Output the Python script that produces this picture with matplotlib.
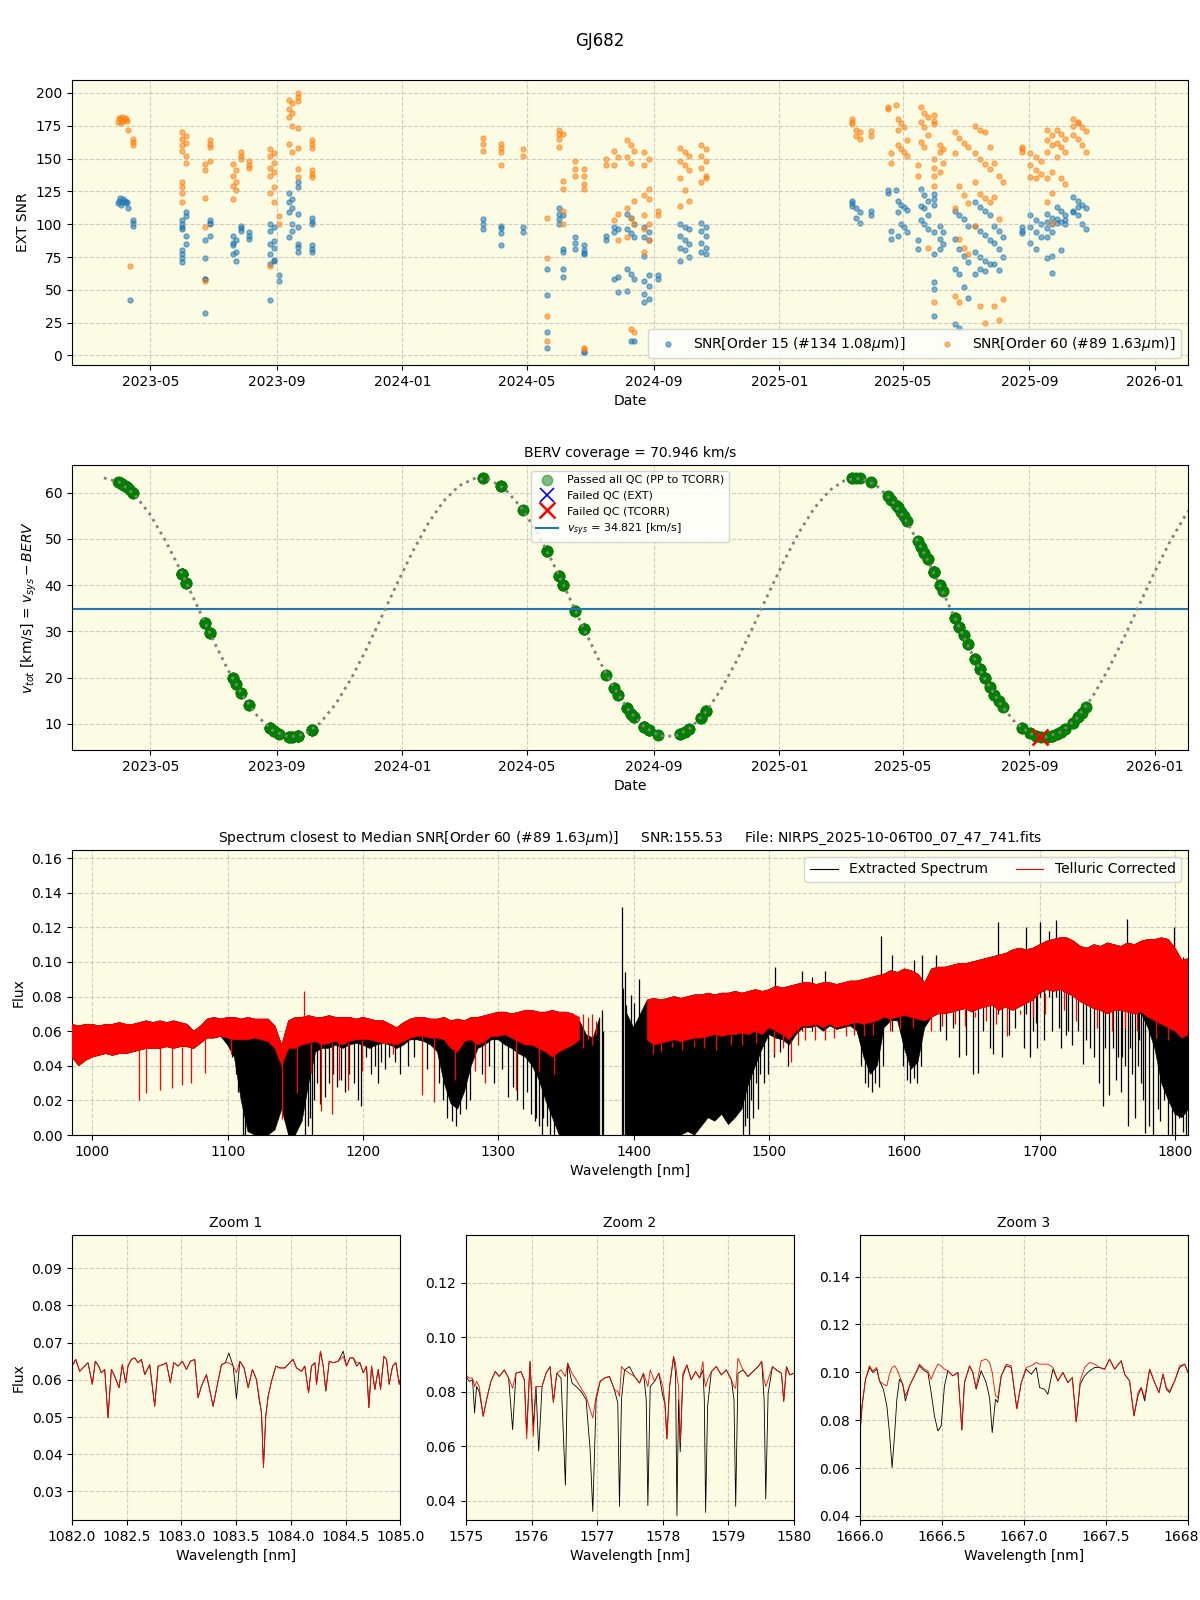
import numpy as np
import pandas as pd
import matplotlib
matplotlib.use("Agg")
import matplotlib.pyplot as plt
import matplotlib.dates as mdates
from matplotlib.gridspec import GridSpec
from matplotlib.ticker import MultipleLocator

FACE = '#fcfbe3'

# ---------------- SNR / BERV observations ----------------
obs23_date = (['2023-03-31','2023-04-01','2023-04-02','2023-04-03','2023-04-04','2023-04-05','2023-04-06','2023-04-07','2023-04-08','2023-04-09','2023-04-11']
 + ['2023-04-14']*3
 + ['2023-06-01']*4 + ['2023-06-05']*4 + ['2023-06-01']*4
 + ['2023-06-28']*4 + ['2023-06-23']*5
 + ['2023-07-20','2023-07-23']*3 + ['2023-07-20']
 + ['2023-07-28']*3 + ['2023-08-05']*3
 + ['2023-08-25','2023-08-29']*5 + ['2023-08-25']
 + ['2023-09-03']*2
 + ['2023-09-13','2023-09-16']*4
 + ['2023-09-22']*7
 + ['2023-10-05']*6)
snr15_23 = [116,118,120,115,117,119,118,116,117,112,42,103,99,101,
 103,100,98,96,91,109,106,85,80,77,74,71,
 103,101,100,91,88,74,58,32,58,
 91,88,84,79,77,72,86,99,97,95,94,91,89,
 100,98,95,87,85,82,77,72,70,73,42,61,57,
 124,119,117,112,109,95,90,100,
 132,128,108,98,83,79,85,
 105,102,100,84,81,79]
snr60_23 = [178,181,180,177,182,179,181,180,179,172,68,165,160,163,
 170,165,160,156,152,167,162,147,132,128,124,117,
 164,161,159,148,146,141,120,98,57,
 146,141,137,132,129,126,119,155,152,150,148,145,143,
 157,154,152,147,143,140,137,128,124,117,68,106,100,
 195,192,188,185,182,175,161,155,
 200,197,194,173,158,142,136,
 164,161,158,141,138,136]
vtot23 = ([62.4,62.3,62.1,62.0,61.9,61.7,61.55,61.4,61.2,61.0,60.65] + [60.0]*3
 + [42.45]*4 + [40.55]*4 + [42.45]*4
 + [29.6]*4 + [31.9]*5
 + [19.8,18.6]*3 + [19.8]
 + [16.7]*3 + [14.0]*3
 + [9.0,8.4]*5 + [9.0]
 + [7.75]*2 + [7.1]*8 + [7.25]*7 + [8.65]*6)

obs24_date = (['2024-03-19']*3 + ['2024-04-06']*4 + ['2024-04-27']*2 + ['2024-05-20']*4
 + ['2024-06-01']*4 + ['2024-06-05']*5 + ['2024-06-17']*3 + ['2024-06-25']*6
 + ['2024-07-17']*2 + ['2024-07-24','2024-07-28']*3
 + ['2024-08-06','2024-08-10','2024-08-13']*4
 + ['2024-08-23','2024-08-27']*5 + ['2024-08-23']
 + ['2024-09-05']*2
 + ['2024-09-27','2024-10-01','2024-10-05']*3 + ['2024-09-27']
 + ['2024-10-17','2024-10-22']*4)
snr15_24 = [104,100,96, 99,97,93,84, 98,94, 66,46,18,6, 112,108,104,100, 107,81,79,66,60, 90,86,81,
 84,80,77,78,2.5,3, 91,88, 98,96,94,60,58,48,
 108,105,100,96,93,90,66,62,58,49,11,10.7,
 98,94,90,88,76,61,57,53,47,43,41, 61,58,
 100,98,96,91,88,85,82,80,75,72, 101,98,95,91,86,82,79,77]
snr60_24 = [166,161,156, 161,158,155,145, 157,152, 105,74,30,11, 172,169,165,159, 169,133,127,110,100, 148,142,137,
 142,137,131,127,6,5, 150,145, 156,151,145,108,103,88,
 164,160,156,151,147,118,112,105,100,90,20,18,
 155,150,145,127,122,119,107,100,96,88,79, 110,107,
 158,155,152,148,145,141,135,126,118,114, 160,157,152,148,143,137,132,135]
vtot24 = ([63.1]*3 + [61.4]*4 + [56.2]*2 + [47.4]*4 + [42.0]*4 + [40.1]*5 + [34.3]*3 + [30.5]*6
 + [20.6]*2 + [17.8,16.3]*3
 + [13.35,12.2,11.4]*4
 + [9.2,8.55]*5 + [9.2]
 + [7.5]*2
 + [7.75,8.2,8.8]*3 + [7.75]
 + [11.3,12.7]*4)

obs25_md = (['03-13']*3 + ['03-17','03-20']*2 + ['03-31']*2 + ['04-17']*2 + ['04-20']*2 + ['04-24']
 + ['04-26','04-29','05-02','05-05']*2 + ['04-26']
 + ['05-16']*2 + ['05-19','05-22','05-25']*3 + ['05-31']*8
 + ['06-06','06-09']*2 + ['06-06']
 + ['06-21','06-25','06-29','07-03']*3 + ['06-21','06-25']
 + ['07-10','07-15','07-20','07-25']*3 + ['07-10','07-15','07-20']
 + ['07-29','08-02','08-06']*2 + ['07-29','08-02']
 + ['08-25']*3
 + ['09-02','09-07','09-12']*2 + ['09-02','09-07']
 + ['09-18','09-23']*5
 + ['09-28','10-02','10-06']*3
 + ['10-13','10-18','10-22','10-26']*2 + ['10-13','10-18'])
snr15_25 = [118,116,114,112,109,105,101,110,107,126,
 124,95,89,126,118,115,113,111,109,100,
 98,94,91,88,81,127,122,118,114,112,
 107,103,100,96,123,119,115,94,77,56,
 51,30,99,94,89,85,81,110,107,104,
 99,89,81,76,71,66,62,52,44,24,
 21,117,113,110,107,99,95,92,88,79,
 75,72,70,62,66,64,99,95,90,86,
 81,75,70,65,98,95,93,107,103,100,
 98,94,90,86,81,108,105,102,100,97,
 94,90,76,74,63,113,110,107,104,102,
 100,101,80,103,121,118,115,112,110,107,
 100,96,109,113]
snr60_25 = [180,178,176,172,170,167,165,171,167,189,
 188,154,147,191,180,177,174,164,160,157,
 155,152,172,145,137,189,185,182,178,174,
 168,163,159,82,183,179,176,150,143,137,
 129,41,160,157,155,147,140,170,166,162,
 159,154,129,122,116,112,89,82,77,45,
 41,175,172,170,159,154,150,146,142,132,
 123,120,117,99,38,25,147,137,132,121,
 104,43,38,27,159,157,155,154,151,148,
 145,141,138,136,135,172,168,164,160,155,
 140,135,124,117,101,172,169,165,162,159,
 155,151,135,131,180,177,174,171,168,165,
 160,155,175,178]
vtot25 = ([63.1]*3 + [63.2,63.1]*2 + [62.4]*2 + [59.3]*2 + [58.5]*2 + [57.4]
 + [56.8,55.9,54.9,53.8]*2 + [56.8]
 + [49.5]*2 + [48.3,46.95,45.65]*3 + [42.9]*8
 + [40.1,38.7]*2 + [40.1]
 + [32.9,30.95,29.1,27.2]*3 + [32.9,30.95]
 + [24.05,21.85,19.8,17.85]*3 + [24.05,21.85,19.8]
 + [16.3,15.0,13.65]*2 + [16.3,15.0]
 + [9.0]*3
 + [7.9,7.35,7.15]*2 + [7.9,7.35]
 + [7.1,7.3]*5
 + [7.75,8.2,8.8]*3
 + [10.15,11.35,12.4,13.6]*2 + [10.15,11.35])

failed_tcorr_date = ['2025-09-11']
failed_tcorr_v = [7.15]

# BERV model curve (15-day sampling starting 2023-03-17)
curve_start = '2023-03-17'
curve_v = [63.20,62.27,59.55,55.21,49.54,42.92,35.79,28.61,21.86,16.00,
 11.40,8.38,7.13,7.73,10.15,14.23,19.69,26.17,33.25,40.45,
 47.31,53.36,58.20,61.51,63.08,62.81,60.70,56.89,51.66,45.32,
 38.32,31.10,24.15,17.93,12.86,9.25,7.36,7.31,9.11,12.63,
 17.63,23.80,30.73,37.94,44.97,51.35,56.66,60.54,62.74,63.12,
 61.64,58.41,53.63,47.64,40.82,33.62,26.53,20.00,14.47,10.32,
 7.82,7.11,8.27,11.21,15.74,21.53,28.24,35.41,42.56,49.21,
 54.93,59.36]
v_sys = 34.821
berv_coverage = 70.946

# ---------------- Full spectrum envelopes (5 nm anchors 985..1810) ----------------
nan = np.nan
red_hi = [.064,.063,.064,.064,.063,.064,.064,.065,.064,.064,
 .065,.066,.065,.066,.065,.066,.065,.064,.060,.063,
 .067,.068,.067,.068,.068,.067,.068,.067,.067,.067,
 .063,.052,.066,.068,.068,.069,.068,.068,.069,.068,
 .068,.068,.067,.068,.067,.066,.066,.064,.062,.065,
 .067,.068,.068,.067,.067,.068,.066,.067,.066,.068,
 .068,.069,.070,.071,.071,.070,.071,.072,.072,.071,
 .071,.072,.071,.071,.070,.068,nan,nan,nan,nan,
 nan,nan,nan,nan,nan,.078,.079,.078,.079,.080,
 .079,.080,.081,.081,.082,.081,.082,.082,.083,.082,
 .083,.084,.083,.084,.086,.085,.086,.087,.088,.088,
 .087,.088,.088,.087,.088,.089,.089,.090,.091,.092,
 .093,.095,.094,.096,.095,.093,.088,.096,.097,.097,
 .098,.099,.099,.100,.101,.102,.103,.104,.105,.107,
 .108,.107,.108,.110,.112,.113,.114,.114,.112,.109,
 .108,.110,.109,.111,.110,.109,.111,.110,.112,.113,
 .113,.114,.113,.108,.101,.102]
red_lo = [.045,.040,.043,.045,.046,.047,.046,.047,.047,.048,
 .049,.050,.050,.050,.051,.050,.051,.051,.050,.053,
 .056,.056,.057,.056,.055,.055,.055,.056,.055,.054,
 .050,.040,.050,.050,.052,.053,.054,.052,.053,.054,
 .052,.054,.055,.055,.055,.054,.053,.053,.052,.054,
 .056,.057,.057,.056,.056,.055,.050,.048,.054,.055,
 .052,.054,.057,.057,.058,.056,.054,.052,.052,.050,
 .048,.045,.048,.050,.052,.055,nan,nan,nan,nan,
 nan,nan,nan,nan,nan,.055,.052,.053,.054,.055,
 .054,.055,.056,.056,.057,.058,.057,.058,.058,.059,
 .058,.060,.058,.062,.060,.058,.055,.060,.063,.063,
 .064,.062,.064,.062,.063,.064,.065,.064,.065,.066,
 .068,.067,.068,.069,.068,.067,.066,.068,.070,.070,
 .071,.072,.073,.071,.073,.074,.075,.072,.074,.072,
 .074,.076,.078,.082,.084,.083,.084,.082,.080,.077,
 .075,.073,.072,.070,.072,.072,.071,.070,.071,.068,
 .066,.064,.062,.060,.056,.058]
blk_hi = [.064,.063,.064,.064,.063,.064,.064,.065,.064,.064,
 .065,.066,.065,.066,.065,.066,.065,.064,.060,.063,
 .067,.068,.067,.068,.068,.067,.068,.067,.067,.067,
 .063,.052,.066,.068,.068,.069,.068,.068,.069,.068,
 .068,.068,.067,.068,.067,.066,.066,.064,.062,.065,
 .067,.068,.068,.067,.067,.068,.066,.067,.066,.068,
 .068,.069,.070,.071,.071,.070,.071,.072,.072,.071,
 .071,.072,.071,.071,.070,.066,.058,.056,.068,nan,
 nan,nan,.070,.062,.070,.078,.079,.078,.079,.080,
 .079,.080,.081,.081,.082,.081,.082,.082,.083,.082,
 .083,.084,.083,.084,.086,.085,.086,.087,.088,.088,
 .087,.088,.088,.087,.088,.089,.089,.090,.091,.092,
 .093,.095,.094,.096,.095,.093,.088,.096,.097,.097,
 .098,.099,.099,.100,.101,.102,.103,.104,.105,.107,
 .108,.107,.108,.110,.112,.113,.114,.114,.112,.109,
 .108,.110,.109,.111,.110,.109,.111,.110,.112,.113,
 .113,.114,.113,.108,.101,.102]
blk_lo = [.045,.040,.043,.045,.046,.047,.046,.047,.047,.048,
 .049,.050,.050,.050,.051,.050,.051,.051,.050,.053,
 .056,.056,.057,.052,.045,.020,.002,.000,.000,.000,
 .003,.015,.000,.000,.008,.030,.048,.050,.050,.052,
 .050,.052,.053,.052,.050,.052,.053,.052,.050,.052,
 .055,.055,.054,.052,.048,.030,.018,.015,.025,.040,
 .050,.052,.055,.055,.052,.050,.047,.045,.040,.032,
 .020,.010,.000,.000,.000,.000,.000,.000,.000,nan,
 nan,nan,.000,.000,.000,.000,.000,.000,.000,.000,
 .000,.002,.000,.005,.010,.008,.012,.006,.010,.015,
 .030,.040,.050,.058,.056,.055,.052,.058,.062,.062,
 .063,.060,.063,.061,.062,.063,.060,.045,.035,.040,
 .062,.066,.066,.050,.038,.042,.062,.068,.070,.070,
 .071,.072,.073,.071,.073,.074,.075,.072,.074,.072,
 .074,.076,.078,.082,.084,.083,.084,.082,.080,.077,
 .075,.073,.072,.070,.072,.072,.071,.070,.070,.062,
 .050,.030,.020,.012,.010,.015]

# individual black lines (wavelength, bottom, top)
blk_lines = [
 (1103,.045,.056),(1106,.035,.056),(1108,.025,.056),(1111,.000,.056),(1113,.000,.056),
 (1157,.000,.055),(1159,.005,.055),(1162,.000,.055),
 (1161,.010,.060),(1163.5,.020,.060),(1166,.030,.060),(1168.5,.018,.060),(1172,.022,.060),(1175,.030,.060),
 (1178,.035,.060),(1181,.028,.060),(1184,.032,.060),(1187,.025,.060),(1190,.035,.060),(1193,.030,.060),
 (1196,.020,.060),(1198.5,.017,.060),(1202,.045,.060),(1206,.035,.060),(1209,.040,.060),(1211,.030,.060),
 (1213,.042,.060),(1216,.038,.060),(1219,.045,.060),(1224,.042,.060),(1227,.035,.060),
 (1233,.040,.060),(1238,.045,.060),(1247,.038,.060),(1256,.030,.060),
 (1259,.020,.050),(1262,.010,.050),(1266,.008,.050),(1269,.005,.050),(1272,.012,.050),(1276,.015,.050),(1279,.020,.050),
 (1288,.035,.060),(1293,.040,.060),(1297,.030,.060),(1303,.038,.060),(1307,.022,.060),(1311,.028,.060),
 (1314,.020,.060),(1318,.015,.060),(1321,.025,.060),(1324,.012,.060),(1327,.008,.060),(1328,.010,.060),
 (1330,.005,.060),(1332,.000,.060),(1333,.010,.060),(1336,.005,.060),(1338,.000,.060),(1341,.000,.060),
 (1376.5,.000,.072),(1377.2,.000,.060),(1391.5,.000,.132),(1392.3,.000,.085),(1393.4,.000,.094),
 (1394.5,.000,.075),(1397.7,.000,.081),(1400.5,.000,.076),(1404,.000,.090),
 (1481,.000,.050),(1482,.005,.050),(1484,.010,.050),(1485,.000,.055),(1487,.020,.060),(1488,.010,.060),
 (1490,.030,.060),(1492,.015,.060),(1493,.035,.060),(1496,.030,.060),(1499,.035,.060),
 (1503.4,.045,.060),(1508,.048,.060),(1514,.040,.060),
 (1504.7,.060,.097),(1524,.060,.095),(1532,.060,.091),(1541.6,.060,.095),(1583,.060,.115),(1591,.060,.104),
 (1607,.060,.101),(1613,.060,.104),(1623,.070,.104),
 (1568,.040,.065),(1571,.030,.065),(1573,.028,.065),(1576,.025,.065),(1578,.030,.065),(1581,.028,.065),(1584,.040,.065),
 (1599,.040,.068),(1602,.032,.068),(1604,.030,.068),(1607,.033,.068),(1609,.030,.068),(1612,.040,.068),
 (1626,.060,.075),(1631,.055,.075),(1636,.062,.078),(1658,.060,.080),(1677,.058,.080),(1682,.062,.080),
 (1640,.045,.080),(1645.6,.046,.080),(1651,.035,.080),(1654.6,.036,.080),(1663,.050,.080),(1665.5,.047,.080),
 (1672,.045,.080),(1688,.050,.080),(1693,.045,.080),(1669,.070,.123),(1690,.070,.120),(1700,.080,.123),
 (1707,.080,.118),(1712,.080,.124),
 (1695,.060,.085),(1697,.065,.085),(1698,.050,.085),(1703,.055,.085),(1709,.060,.085),(1714,.062,.085),
 (1716,.050,.085),(1719,.058,.085),(1721,.060,.085),(1724,.052,.085),(1728,.060,.085),(1734,.055,.085),
 (1744,.030,.085),(1748,.050,.085),(1754,.050,.085),(1758,.045,.085),(1761,.045,.085),(1767,.050,.085),
 (1768,.035,.085),(1773,.055,.085),(1775,.030,.085),
 (1731.7,.041,.090),(1737,.050,.090),(1740,.045,.090),(1746.7,.017,.090),(1751,.023,.090),(1756,.032,.090),
 (1760,.025,.090),(1763,.040,.090),(1765,.005,.090),(1770,.010,.090),(1772.7,.040,.090),(1776,.020,.090),
 (1778,.001,.090),(1781,.005,.090),(1783.6,.000,.090),(1787,.015,.090),(1789,.008,.090),(1792,.020,.090),
 (1794.6,.000,.090),(1798,.000,.090),(1800,.000,.090),(1803,.010,.090),(1805.5,.002,.090),(1808,.000,.090),
 (1764.5,.080,.125),(1799.5,.080,.120),(1805.5,.060,.103)]

# individual red lines (wavelength, bottom, top)
red_lines = [
 (1034.5,.020,.050),(1039.6,.024,.050),(1050.1,.026,.050),(1058.6,.027,.050),(1066.0,.029,.051),
 (1073.0,.030,.051),(1083.5,.036,.055),(1102.5,.047,.056),(1140.1,.009,.045),(1151.4,.024,.050),
 (1161.3,.036,.053),(1169.3,.014,.053),(1177.2,.012,.053),(1182.6,.032,.054),(1188.8,.026,.053),
 (1199.5,.037,.055),(1222,.047,.053),(1243.4,.023,.057),(1252.5,.019,.056),(1268,.032,.050),
 (1283,.037,.055),(1290,.030,.054),(1312.8,.026,.055),(1329.7,.037,.050),(1341,.035,.046),
 (1362.3,.050,.070),(1366,.055,.068),(1369.4,.052,.070),(1372,.058,.066),(1156.2,.065,.083),
 (1414.5,.047,.053),(1428,.051,.054),(1444.6,.051,.055),(1472,.052,.058),(1503.4,.047,.060),
 (1516.2,.042,.055),(1526.6,.055,.063),(1541.6,.055,.062),(1556.7,.057,.063),(1570.4,.057,.064),
 (1619.6,.060,.068),(1652.4,.068,.071),(1675.6,.057,.074),(1685.2,.070,.072),
 (1420,.048,.056),(1436,.049,.056),(1452,.050,.058),(1461,.049,.058),(1480,.052,.060),(1490,.053,.062),
 (1510,.050,.060),(1521,.052,.062),(1534,.055,.064),(1548,.056,.064),(1563,.058,.066),(1577,.058,.066),
 (1589,.060,.068),(1597,.061,.069),(1606,.062,.068),(1628,.063,.071),(1637,.064,.072),(1645,.063,.073),
 (1660,.066,.075),(1668,.064,.075),(1695,.068,.078),(1704,.070,.082),(1718,.072,.083),(1727,.066,.080),
 (1742,.062,.076),(1753,.060,.074),(1763,.062,.075),(1772,.060,.074),(1786,.056,.072),(1795,.055,.071)]

# ---------------- Zoom windows ----------------
z1_wl = [1082.000,1082.034,1082.070,1082.116,1082.146,1082.186,1082.213,1082.244,1082.268,1082.299,
 1082.329,1082.360,1082.390,1082.430,1082.460,1082.491,1082.512,1082.543,1082.573,1082.604,
 1082.634,1082.665,1082.710,1082.756,1082.787,1082.832,1082.863,1082.899,1082.930,1082.970,
 1083.009,1083.046,1083.082,1083.122,1083.152,1083.183,1083.229,1083.290,1083.326,1083.366,
 1083.402,1083.433,1083.473,1083.503,1083.534,1083.573,1083.610,1083.649,1083.686,1083.710,
 1083.732,1083.750,1083.771,1083.793,1083.823,1083.863,1083.899,1083.945,1083.991,1084.021,
 1084.052,1084.098,1084.128,1084.162,1084.189,1084.220,1084.235,1084.271,1084.296,1084.320,
 1084.351,1084.387,1084.433,1084.479,1084.509,1084.540,1084.570,1084.601,1084.631,1084.662,
 1084.692,1084.713,1084.738,1084.768,1084.799,1084.820,1084.851,1084.875,1084.899,1084.930,
 1084.960,1084.991,1085.000]
z1_blk = [.0637,.0655,.0623,.0637,.0646,.0588,.0650,.0637,.0619,.0628,
 .0498,.0628,.0610,.0579,.0641,.0592,.0637,.0655,.0659,.0646,
 .0655,.0614,.0641,.0529,.0637,.0641,.0646,.0592,.0646,.0637,
 .0650,.0628,.0650,.0655,.0552,.0583,.0614,.0529,.0583,.0641,
 .0646,.0672,.0637,.0549,.0650,.0632,.0579,.0628,.0601,.0547,
 .0512,.0364,.0503,.0556,.0596,.0637,.0632,.0632,.0646,.0655,
 .0632,.0623,.0637,.0565,.0637,.0646,.0588,.0677,.0637,.0570,
 .0650,.0646,.0650,.0677,.0637,.0659,.0659,.0637,.0646,.0619,
 .0637,.0525,.0637,.0574,.0628,.0574,.0663,.0655,.0588,.0637,
 .0646,.0588,.0601]
z1_red = [.0637,.0655,.0623,.0637,.0646,.0588,.0650,.0637,.0619,.0628,
 .0498,.0628,.0610,.0579,.0641,.0592,.0637,.0655,.0659,.0646,
 .0655,.0614,.0641,.0529,.0637,.0641,.0646,.0592,.0646,.0637,
 .0650,.0628,.0650,.0655,.0552,.0583,.0614,.0529,.0583,.0641,
 .0646,.0646,.0637,.0619,.0650,.0632,.0579,.0628,.0601,.0556,
 .0512,.0364,.0503,.0556,.0596,.0637,.0632,.0632,.0646,.0655,
 .0632,.0623,.0637,.0565,.0637,.0646,.0588,.0677,.0637,.0570,
 .0650,.0646,.0650,.0663,.0637,.0659,.0659,.0646,.0646,.0619,
 .0637,.0525,.0637,.0574,.0628,.0574,.0663,.0655,.0588,.0637,
 .0646,.0588,.0601]

z2_wl = [1575.000,1575.051,1575.102,1575.132,1575.163,1575.203,1575.264,1575.315,1575.381,1575.448,
 1575.509,1575.585,1575.651,1575.712,1575.763,1575.839,1575.890,1575.926,1575.977,1576.027,
 1576.068,1576.109,1576.160,1576.221,1576.282,1576.333,1576.384,1576.450,1576.516,1576.551,
 1576.617,1576.679,1576.755,1576.831,1576.892,1576.933,1576.984,1577.045,1577.111,1577.187,
 1577.263,1577.314,1577.340,1577.370,1577.416,1577.492,1577.569,1577.645,1577.706,1577.747,
 1577.772,1577.808,1577.874,1577.940,1578.001,1578.032,1578.062,1578.103,1578.164,1578.194,
 1578.215,1578.240,1578.265,1578.306,1578.367,1578.433,1578.500,1578.561,1578.611,1578.632,
 1578.652,1578.682,1578.739,1578.815,1578.891,1578.967,1579.044,1579.084,1579.110,1579.145,
 1579.222,1579.298,1579.374,1579.451,1579.507,1579.543,1579.568,1579.604,1579.670,1579.730,
 1579.807,1579.842,1579.883,1579.934,1580.000]
z2_blk = [.0856,.0838,.0844,.0722,.0819,.0801,.0710,.0771,.0838,.0874,
 .0856,.0880,.0850,.0661,.0868,.0874,.0844,.0649,.0911,.0674,
 .0819,.0582,.0819,.0868,.0892,.0761,.0868,.0850,.0457,.0905,
 .0832,.0819,.0801,.0771,.0588,.0360,.0771,.0838,.0850,.0856,
 .0807,.0759,.0379,.0771,.0880,.0892,.0856,.0832,.0868,.0771,
 .0382,.0819,.0838,.0868,.0783,.0759,.0627,.0819,.0929,.0868,
 .0345,.0771,.0580,.0856,.0898,.0844,.0874,.0850,.0880,.0771,
 .0357,.0747,.0874,.0892,.0862,.0880,.0844,.0771,.0379,.0868,
 .0880,.0856,.0874,.0892,.0911,.0771,.0406,.0795,.0892,.0880,
 .0868,.0765,.0892,.0862,.0868]
z2_red = [.0862,.0850,.0850,.0819,.0838,.0819,.0710,.0771,.0838,.0874,
 .0856,.0880,.0850,.0813,.0868,.0874,.0844,.0627,.0911,.0637,
 .0819,.0819,.0819,.0868,.0892,.0761,.0868,.0880,.0856,.0905,
 .0868,.0844,.0813,.0783,.0734,.0704,.0783,.0838,.0850,.0856,
 .0807,.0801,.0783,.0892,.0880,.0868,.0856,.0832,.0868,.0838,
 .0819,.0880,.0838,.0868,.0819,.0759,.0627,.0819,.0929,.0905,
 .0856,.0819,.0613,.0868,.0898,.0844,.0874,.0850,.0911,.0844,
 .0819,.0844,.0874,.0892,.0862,.0880,.0844,.0819,.0813,.0923,
 .0880,.0856,.0874,.0892,.0911,.0844,.0819,.0844,.0892,.0880,
 .0868,.0765,.0892,.0862,.0868]

z3_wl = [1666.000,1666.014,1666.035,1666.059,1666.079,1666.104,1666.120,1666.144,1666.165,1666.181,
 1666.197,1666.213,1666.226,1666.242,1666.262,1666.278,1666.303,1666.333,1666.364,1666.394,
 1666.415,1666.435,1666.455,1666.476,1666.496,1666.516,1666.537,1666.567,1666.598,1666.622,
 1666.638,1666.669,1666.689,1666.709,1666.740,1666.770,1666.791,1666.807,1666.827,1666.841,
 1666.862,1666.892,1666.923,1666.957,1666.984,1667.014,1667.045,1667.075,1667.096,1667.126,
 1667.146,1667.177,1667.207,1667.238,1667.268,1667.295,1667.319,1667.343,1667.370,1667.400,
 1667.431,1667.461,1667.492,1667.522,1667.553,1667.593,1667.614,1667.644,1667.671,1667.695,
 1667.715,1667.736,1667.766,1667.797,1667.823,1667.848,1667.868,1667.888,1667.919,1667.949,
 1667.980,1668.000]
z3_blk = [.0727,.0860,.0971,.1020,.0999,.1013,.0964,.0929,.0860,.0748,
 .0602,.0748,.0887,.0971,.0950,.0880,.0943,.0985,.1027,.1006,
 .0999,.0915,.0818,.0755,.0776,.0943,.1006,.0985,.0999,.0759,
 .0957,.1027,.0999,.0929,.1006,.0957,.0894,.0748,.0887,.0874,
 .0985,.1027,.1020,.0848,.0957,.1013,.0992,.1020,.0936,.0929,
 .0908,.1013,.0964,.0999,.0957,.0978,.0793,.0950,.0985,.1006,
 .1020,.1020,.1013,.1055,.1013,.1048,.0992,.0964,.0818,.0901,
 .0936,.0880,.1013,.0957,.0915,.0992,.0929,.0915,.0964,.1020,
 .1034,.0999]
z3_red = [.0727,.0860,.0971,.1027,.1006,.1020,.0964,.0950,.0943,.0992,
 .1020,.1027,.1013,.0985,.0950,.0901,.0943,.0985,.1034,.1013,
 .1006,.0971,.1006,.1034,.1027,.1013,.1006,.0985,.0999,.0759,
 .0957,.1027,.0999,.0936,.1048,.1055,.1041,.0999,.0901,.0894,
 .0985,.1034,.1027,.0848,.0957,.1020,.1027,.1041,.1034,.1034,
 .1034,.1020,.0964,.0999,.0957,.0978,.0793,.0964,.1020,.1041,
 .1034,.1020,.1013,.1055,.1013,.1048,.0992,.0964,.0818,.0915,
 .0936,.0894,.1013,.0957,.0915,.0992,.0936,.0922,.0964,.1027,
 .1034,.0999]

# ============================ Figure ============================
fig = plt.figure(figsize=(12, 16), dpi=100)
gs = GridSpec(4, 3, figure=fig, left=0.06, right=0.99, top=0.95, bottom=0.05,
              hspace=0.35, wspace=0.2)
fig.suptitle('GJ682', fontsize=12)

xlim_dates = (pd.Timestamp('2023-02-14'), pd.Timestamp('2026-02-02'))
obs_dates = pd.to_datetime(obs23_date + obs24_date + ['2025-' + s for s in obs25_md])
snr15 = snr15_23 + snr15_24 + snr15_25
snr60 = snr60_23 + snr60_24 + snr60_25
vtot = vtot23 + vtot24 + vtot25
n = min(len(obs_dates), len(snr15), len(snr60), len(vtot))
obs_dates, snr15, snr60, vtot = obs_dates[:n], snr15[:n], snr60[:n], vtot[:n]

def style(ax):
    ax.set_facecolor(FACE)
    ax.grid(True, linestyle='--', alpha=0.6)

# ---- Panel 1: SNR ----
ax1 = fig.add_subplot(gs[0, :])
style(ax1)
ax1.scatter(obs_dates, snr15, s=13, alpha=0.55, color='C0',
            label=r'SNR[Order 15 (#134 1.08$\mu$m)]')
ax1.scatter(obs_dates, snr60, s=13, alpha=0.55, color='C1',
            label=r'SNR[Order 60 (#89 1.63$\mu$m)]')
ax1.set_xlim(*xlim_dates)
ax1.yaxis.set_major_locator(MultipleLocator(25))
ax1.set_ylabel('EXT SNR')
ax1.set_xlabel('Date')
ax1.xaxis.set_major_locator(mdates.MonthLocator(bymonth=[1, 5, 9]))
ax1.xaxis.set_major_formatter(mdates.DateFormatter('%Y-%m'))
ax1.legend(loc='lower right', ncol=2)

# ---- Panel 2: BERV ----
ax2 = fig.add_subplot(gs[1, :])
style(ax2)
curve_dates = pd.date_range(curve_start, periods=len(curve_v), freq='15D')
ax2.scatter(obs_dates, vtot, s=55, color='green', alpha=0.5, zorder=2,
            label='Passed all QC (PP to TCORR)')
ax2.scatter(obs_dates, vtot, s=55, color='green', alpha=0.5, zorder=2)
ax2.plot([], [], 'x', color='blue', ms=10, mew=1.2, label='Failed QC (EXT)')
ax2.plot(pd.to_datetime(failed_tcorr_date), failed_tcorr_v, 'x', color='red', ms=12,
         mew=1.8, zorder=4, label='Failed QC (TCORR)')
ax2.plot(curve_dates, curve_v, ls=':', color='gray', lw=2.0, zorder=3)
ax2.axhline(v_sys, color='C0', lw=1.5, label=r'$v_{sys}$ = %.3f [km/s]' % v_sys)
ax2.set_xlim(*xlim_dates)
ax2.set_title('BERV coverage = %.3f km/s' % berv_coverage, fontsize=10)
ax2.set_ylabel(r'$v_{tot}$ [km/s] = $v_{sys} - BERV$')
ax2.set_xlabel('Date')
ax2.xaxis.set_major_locator(mdates.MonthLocator(bymonth=[1, 5, 9]))
ax2.xaxis.set_major_formatter(mdates.DateFormatter('%Y-%m'))
ax2.legend(loc='upper center', fontsize=8)

# ---- Panel 3: full spectrum ----
ax3 = fig.add_subplot(gs[2, :])
style(ax3)
spec_wl = np.arange(985, 1811, 5)
bl = np.array(blk_lines)
rl = np.array(red_lines)
ax3.fill_between(spec_wl, blk_lo, blk_hi, color='black', lw=0.4, zorder=2)
ax3.vlines(bl[:, 0], bl[:, 1], bl[:, 2], color='black', lw=0.9, zorder=2)
ax3.fill_between(spec_wl, red_lo, red_hi, color='red', lw=0.4, zorder=3)
ax3.vlines(rl[:, 0], rl[:, 1], rl[:, 2], color='red', lw=0.9, zorder=3)
ax3.plot([], [], color='black', lw=0.8, label='Extracted Spectrum')
ax3.plot([], [], color='red', lw=0.8, label='Telluric Corrected')
ax3.set_xlim(985, 1809.5)
ax3.set_ylim(0, 0.1647)
ax3.set_xlabel('Wavelength [nm]')
ax3.set_ylabel('Flux')
ax3.set_title(r'Spectrum closest to Median SNR[Order 60 (#89 1.63$\mu$m)]     SNR:155.53     '
              'File: NIRPS_2025-10-06T00_07_47_741.fits', fontsize=10)
ax3.legend(loc='upper right', ncol=2)

# ---- Zoom panels ----
zooms = [(z1_wl, z1_blk, z1_red, (1082, 1085), (0.0223, 0.099)),
         (z2_wl, z2_blk, z2_red, (1575, 1580), (0.0329, 0.1376)),
         (z3_wl, z3_blk, z3_red, (1666, 1668), (0.0383, 0.1574))]
for i, (wl, fb, fr, xl, yl) in enumerate(zooms):
    ax = fig.add_subplot(gs[3, i])
    style(ax)
    ax.plot(wl, fb, color='black', lw=0.6)
    ax.plot(wl, fr, color='red', lw=0.6)
    ax.set_xlim(*xl)
    ax.set_ylim(*yl)
    ax.ticklabel_format(useOffset=False)
    ax.set_title('Zoom %d' % (i + 1), fontsize=10)
    ax.set_xlabel('Wavelength [nm]')
    if i == 0:
        ax.set_ylabel('Flux')

fig.savefig('out.png', dpi=100)
